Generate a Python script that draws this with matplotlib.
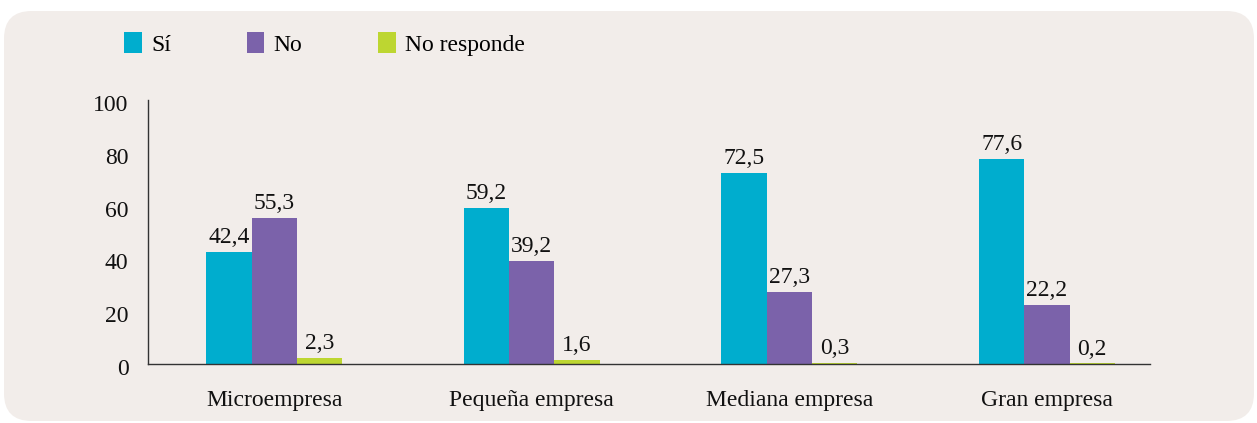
import numpy as np
import matplotlib.pyplot as plt
import matplotlib.transforms as mtransforms
from matplotlib.patches import FancyBboxPatch

categorias = ["Microempresa", "Pequeña empresa", "Mediana empresa", "Gran empresa"]
si = [42.4, 59.2, 72.5, 77.6]
no = [55.3, 39.2, 27.3, 22.2]
no_responde = [2.3, 1.6, 0.3, 0.2]
series = ["Sí", "No", "No responde"]
colores = ["#00ADCE", "#7B62AA", "#BDD631"]

plt.rcParams['font.family'] = ['Liberation Serif', 'DejaVu Serif']
fs = 17

fig = plt.figure(figsize=(12.57, 4.23), dpi=100)
fig.patch.set_facecolor("white")

# fondo redondeado
panel = FancyBboxPatch((4 / 1257, 1 - 421 / 423), 1250 / 1257, 410 / 423,
                       boxstyle="round,pad=0,rounding_size=0.022",
                       transform=fig.transFigure, facecolor="#F2EDEA",
                       edgecolor="none", zorder=-10, mutation_aspect=1257 / 423)
fig.patches.append(panel)

ax = fig.add_axes([148 / 1257, 1 - 364 / 423, (1150 - 148) / 1257, (364 - 100) / 423])
ax.set_facecolor("none")
ax.set_zorder(1)

x = np.arange(len(categorias))
w = 0.176
for i, (vals, nombre, col) in enumerate(zip([si, no, no_responde], series, colores)):
    pos = x + (i - 1) * w
    ax.bar(pos, vals, w, color=col, label=nombre, edgecolor="none")
    for p, v in zip(pos, vals):
        ax.text(p, v + 1.5, f"{v:.1f}".replace(".", ","), ha="center", va="bottom",
                fontsize=fs, color="#111111")

ax.set_xlim(-0.49, 3.4)
ax.set_ylim(0, 100)
ax.set_yticks([0, 20, 40, 60, 80, 100])
ax.set_xticks(x)
ax.set_xticklabels(categorias)
ax.tick_params(axis="both", length=0, labelsize=fs, colors="#111111")
ax.tick_params(axis="y", pad=14)
ax.tick_params(axis="x", pad=19)
# etiquetas del eje y un poco más abajo
off = mtransforms.ScaledTranslation(0, -3 / 100, fig.dpi_scale_trans)
for lab in ax.get_yticklabels():
    lab.set_transform(lab.get_transform() + off)
for s in ["top", "right"]:
    ax.spines[s].set_visible(False)
for s in ["left", "bottom"]:
    ax.spines[s].set_color("#333333")
    ax.spines[s].set_linewidth(1.0)

fig.legend(loc="upper left", bbox_to_anchor=(124 / 1257, 1 - 32 / 423), ncol=3,
           frameon=False, fontsize=fs, borderaxespad=0, borderpad=0,
           handlelength=0.75, handleheight=1.0, handletextpad=0.4,
           columnspacing=3.2)

fig.savefig("out.png", dpi=100)
